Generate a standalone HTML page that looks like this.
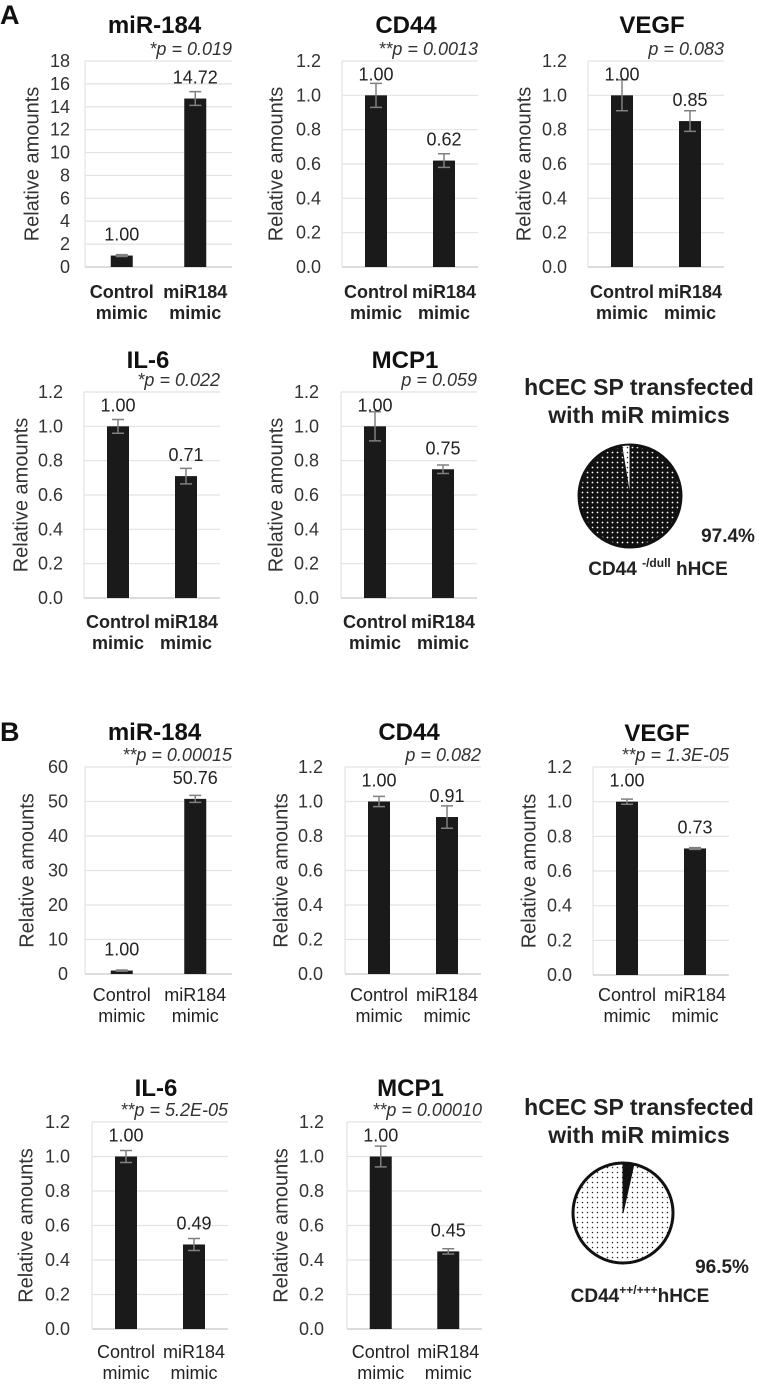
<!DOCTYPE html>
<html><head><meta charset="utf-8">
<style>
html,body{margin:0;padding:0;background:#fff;}
svg{display:block;font-family:"Liberation Sans",Arial,sans-serif;}
</style></head>
<body>
<svg id="fig" width="759" height="1385" viewBox="0 0 759 1385" xmlns="http://www.w3.org/2000/svg">
<defs>
<pattern id="dotsWhite" width="5" height="5" patternUnits="userSpaceOnUse">
<rect width="5" height="5" fill="#111"/><circle cx="2.5" cy="2.5" r="0.9" fill="#fff"/>
</pattern>
<pattern id="dotsBlack" width="5" height="5" patternUnits="userSpaceOnUse">
<rect width="5" height="5" fill="#fff"/><circle cx="2.5" cy="2.5" r="0.75" fill="#222"/>
</pattern>
</defs>
<text x="0" y="24" font-size="27" font-weight="bold" fill="#111">A</text>
<text x="0" y="741" font-size="27" font-weight="bold" fill="#111">B</text>
<g id="charts"></g>
<g id="pies"></g>
</svg>
<script>
// ---- data ----
const chartTitles = ["miR-184","CD44","VEGF","IL-6","MCP1","miR-184","CD44","VEGF","IL-6","MCP1"];
const categories = ["Control|mimic","miR184|mimic"];
const controlValues = [1.00,1.00,1.00,1.00,1.00,1.00,1.00,1.00,1.00,1.00];
const mimicValues = [14.72,0.62,0.85,0.71,0.75,50.76,0.91,0.73,0.49,0.45];
const controlErrors = [0.08,0.07,0.09,0.04,0.085,0.15,0.03,0.015,0.035,0.06];
const mimicErrors = [0.6,0.04,0.06,0.045,0.025,1.0,0.065,0.005,0.035,0.015];
const yMaxValues = [18,1.2,1.2,1.2,1.2,60,1.2,1.2,1.2,1.2];
const yStepValues = [2,0.2,0.2,0.2,0.2,10,0.2,0.2,0.2,0.2];
const pValueLabels = ["*p = 0.019","**p = 0.0013","p = 0.083","*p = 0.022","p = 0.059","**p = 0.00015","p = 0.082","**p = 1.3E-05","**p = 5.2E-05","**p = 0.00010"];
const pieMajorPercents = [97.4, 96.5];
const pieLabels = ["97.4%","96.5%"];

// ---- layout (not data) ----
const layout = [
 {L:85,R:232,T:61,B:267,tr:70,yt:33,ty:25,ly:292,bold:true},
 {L:342,R:478,T:61,B:267,tr:321,yt:277,ty:25,ly:292,bold:true},
 {L:588,R:724,T:61,B:267,tr:567,yt:525,ty:25,ly:292,bold:true},
 {L:84,R:220,T:392,B:598,tr:63,yt:22,ty:360,ly:622,bold:true},
 {L:341,R:477,T:392,B:598,tr:319,yt:277,ty:360,ly:622,bold:true},
 {L:85,R:232,T:767,B:974,tr:68,yt:28,ty:732,ly:995,bold:false},
 {L:345,R:481,T:767,B:974,tr:323,yt:282,ty:732,ly:995,bold:false},
 {L:593,R:729,T:767,B:975,tr:572,yt:530,ty:733,ly:995,bold:false},
 {L:92,R:228,T:1122,B:1329,tr:70,yt:27,ty:1088,ly:1352,bold:false},
 {L:347,R:482,T:1122,B:1329,tr:324,yt:282,ty:1088,ly:1352,bold:false}
];
const NS="http://www.w3.org/2000/svg";
function mk(tag, attrs, parent){const e=document.createElementNS(NS,tag);for(const k in attrs)e.setAttribute(k,attrs[k]);parent.appendChild(e);return e;}
const root=document.getElementById('charts');
layout.forEach((c,i)=>{
  const g=mk('g',{},root);
  
  
  const yMax=yMaxValues[i], step=yStepValues[i];
  const y=v=>c.B-(v/yMax)*(c.B-c.T);
  const x=k=>c.L+(c.R-c.L)*(0.25+0.5*k);
  const dec = yMax>2?0:1;
  for(let v=0; v<=yMax+1e-9; v+=step){
    const gl=mk('line',{x1:c.L,x2:c.R,y1:y(v),y2:y(v),stroke:v===0?'#d0d0d0':'#e2e2e2','stroke-width':v===0?1.5:1.2},g);
    
    
    const t=mk('text',{x:c.tr,y:y(v)+6,'text-anchor':'end','font-size':18,fill:'#333'},g);
    t.textContent=v.toFixed(dec);
    
    
  }
  const ax=mk('line',{x1:c.L,x2:c.L,y1:c.T,y2:c.B,stroke:'#e2e2e2','stroke-width':1.2},g);
  
  
  const yc=(c.T+c.B)/2;
  const yt=mk('text',{x:c.yt,y:yc,'text-anchor':'middle','font-size':20,fill:'#333',transform:'rotate(-90 '+c.yt+' '+yc+')','dominant-baseline':'middle'},g);
  yt.textContent='Relative amounts';
  
  
  const tt=mk('text',{x:(c.L+c.R)/2-4,y:c.ty+8,'text-anchor':'middle','font-size':24,'font-weight':'bold',fill:'#111'},g);
  tt.textContent=chartTitles[i];
  
  
  const pt=mk('text',{x:c.R,y:c.T-6,'text-anchor':'end','font-size':18,'font-style':'italic',fill:'#333'},g);
  pt.textContent=pValueLabels[i];
  
  
  const vals=[controlValues[i],mimicValues[i]], errs=[controlErrors[i],mimicErrors[i]];
  vals.forEach((v,k)=>{
    const cx=x(k), w=22;
    const b=mk('rect',{x:cx-w/2,y:y(v),width:w,height:c.B-y(v),fill:'#1a1a1a'},g);
    
    
    const e1=y(v+errs[k]), e2=y(Math.max(0,v-errs[k]));
    const eb=mk('path',{d:`M${cx},${e1}V${e2}M${cx-6},${e1}H${cx+6}M${cx-6},${e2}H${cx+6}`,stroke:'#808080','stroke-width':1.5,fill:'none'},g);
    
    
    const vl=mk('text',{x:cx,y:y(v)-15,'text-anchor':'middle','font-size':18,fill:'#222'},g);
    vl.textContent=v.toFixed(2);
    
    
    const parts=categories[k].split('|');
    parts.forEach((p,j)=>{
      const cl=mk('text',{x:cx,y:c.ly+6+j*21,'text-anchor':'middle','font-size':18,'font-weight':c.bold?'bold':'normal',fill:'#222'},g);
      cl.textContent=p;
      
      
    });
  });
});

// ---- pies ----
const pieLayout=[
 {cx:630,cy:496,r:51,t1:387,t2:415,tx:639,px:728,py:535,major:'url(#dotsWhite)',minor:'url(#dotsBlack)',minorDir:-1,lx:658,ly:568,lab:['CD44 ','-/dull',' hHCE']},
 {cx:623,cy:1213,r:50,t1:1107,t2:1135,tx:639,px:722,py:1266,major:'url(#dotsBlack)',minor:'#111',minorDir:1,lx:640,ly:1295,lab:['CD44','++/+++','hHCE']}
];
const proot=document.getElementById('pies');
pieLayout.forEach((p,i)=>{
  const g=mk('g',{},proot);
  
  
  ['hCEC SP transfected','with miR mimics'].forEach((s,j)=>{
    const t=mk('text',{x:p.tx,y:(j?p.t2:p.t1)+8,'text-anchor':'middle','font-size':23,'font-weight':'bold',fill:'#222'},g);
    t.textContent=s;
    
    
  });
  const circ=mk('circle',{cx:p.cx,cy:p.cy,r:p.r,fill:p.major,stroke:'#111','stroke-width':3},g);
  
  
  const ang=(100-pieMajorPercents[i])/100*2*Math.PI;
  const a0=-Math.PI/2, a1=a0+p.minorDir*ang;
  const sx=p.cx+p.r*Math.cos(a0), sy=p.cy+p.r*Math.sin(a0);
  const ex=p.cx+p.r*Math.cos(a1), ey=p.cy+p.r*Math.sin(a1);
  const sl=mk('path',{d:`M${p.cx},${p.cy}L${sx},${sy}A${p.r},${p.r} 0 0 ${p.minorDir>0?1:0} ${ex},${ey}Z`,fill:p.minor,stroke:'#111','stroke-width':1},g);
  
  
  const pl=mk('text',{x:p.px,y:p.py+7,'text-anchor':'middle','font-size':19,'font-weight':'bold',fill:'#222'},g);
  pl.textContent=pieLabels[i];
  
  
  const lt=mk('text',{x:p.lx,y:p.ly+7,'text-anchor':'middle','font-size':19,'font-weight':'bold',fill:'#222'},g);
  
  
  const s1=mk('tspan',{},lt); s1.textContent=p.lab[0];
  const s2=mk('tspan',{'font-size':12,dy:-8},lt); s2.textContent=p.lab[1];
  const s3=mk('tspan',{dy:8},lt); s3.textContent=p.lab[2];
});
</script>
</body></html>
